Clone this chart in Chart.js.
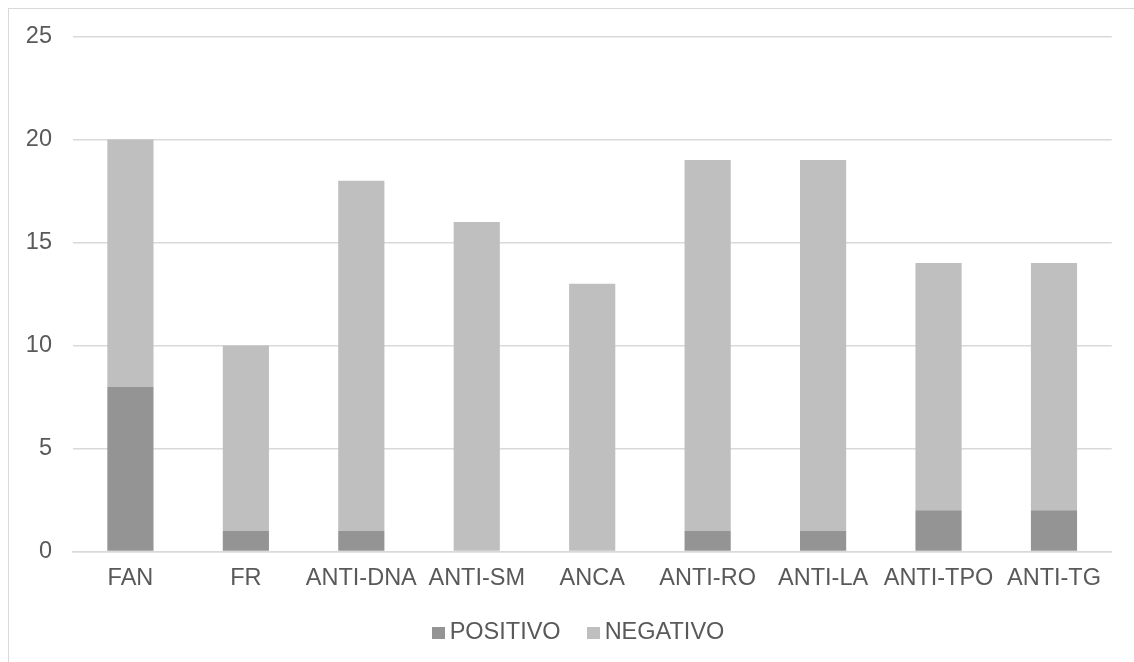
<!DOCTYPE html>
<html>
<head>
<meta charset="utf-8">
<script src="https://cdn.jsdelivr.net/npm/chart.js@4/dist/chart.umd.min.js"></script>
<style>
  html, body { margin: 0; padding: 0; background: #fff; overflow: hidden; }
  body { width: 1134px; height: 662px; position: relative; font-family: "Liberation Sans", Arial, sans-serif; }
  #frame { position: absolute; left: 8px; top: 8px; width: 1200px; height: 700px;
           border-left: 1px solid #d9d9d9; border-top: 1px solid #d9d9d9; box-sizing: border-box; }
  #wrap { position: absolute; left: 0; top: 0; width: 1134px; height: 662px; }
  #legend { position: absolute; left: 11px; top: 619px; width: 1134px; display: flex; justify-content: center;
            font-size: 23.5px; color: #595959; line-height: 24px; }
  #legend .item { display: flex; align-items: center; margin: 0 13px; }
  #legend .box { width: 13px; height: 12px; margin-right: 5px; margin-top: 3px; }
</style>
</head>
<body>
<div id="frame"></div>
<div id="wrap"><canvas id="c" width="1134" height="662"></canvas></div>
<div id="legend"></div>
<script>
const categories = ['FAN', 'FR', 'ANTI-DNA', 'ANTI-SM', 'ANCA', 'ANTI-RO', 'ANTI-LA', 'ANTI-TPO', 'ANTI-TG'];
const positivo = [8, 1, 1, 0, 0, 1, 1, 2, 2];
const negativo = [12, 9, 17, 16, 13, 18, 18, 12, 12];
const seriesNames = ['POSITIVO', 'NEGATIVO'];
const seriesColors = ['#949494', '#bfbfbf'];
const yTicks = [0, 5, 10, 15, 20, 25];

const textColor = '#595959';
const gridColor = '#d9d9d9';
const font = { family: '"Liberation Sans", Arial, sans-serif', size: 23.5 };

const chart = new Chart(document.getElementById('c'), {
  type: 'bar',
  data: {
    labels: categories,
    datasets: [
      { label: seriesNames[0], data: positivo, backgroundColor: seriesColors[0],
        barPercentage: 0.4, categoryPercentage: 1 },
      { label: seriesNames[1], data: negativo, backgroundColor: seriesColors[1],
        barPercentage: 0.4, categoryPercentage: 1 }
    ]
  },
  options: {
    responsive: false,
    animation: false,
    layout: { padding: { left: 8, top: 36.5, right: 22.3, bottom: 0 } },
    plugins: { legend: { display: false }, tooltip: { enabled: false } },
    scales: {
      x: {
        stacked: true,
        grid: { display: false, drawTicks: false },
        border: { display: true, color: gridColor, width: 1.5 },
        ticks: { color: textColor, font: font, padding: 13, maxRotation: 0, autoSkip: false },
        afterFit: s => { s.height = 110.5; }
      },
      y: {
        stacked: true,
        min: 0, max: 25,
        afterBuildTicks: s => { s.ticks = yTicks.map(v => ({ value: v })); },
        grid: { color: gridColor, lineWidth: 1.5, drawTicks: false },
        border: { display: false },
        ticks: { color: textColor, font: font, padding: 20.7 },
        afterFit: s => { s.width = 64.7; }
      }
    }
  }
});

// legend built from the chart's datasets
const legend = document.getElementById('legend');
chart.data.datasets.forEach(ds => {
  const item = document.createElement('div');
  item.className = 'item';
  const box = document.createElement('span');
  box.className = 'box';
  box.style.background = ds.backgroundColor;
  const txt = document.createElement('span');
  txt.textContent = ds.label;
  item.appendChild(box);
  item.appendChild(txt);
  legend.appendChild(item);
});
</script>
</body>
</html>
